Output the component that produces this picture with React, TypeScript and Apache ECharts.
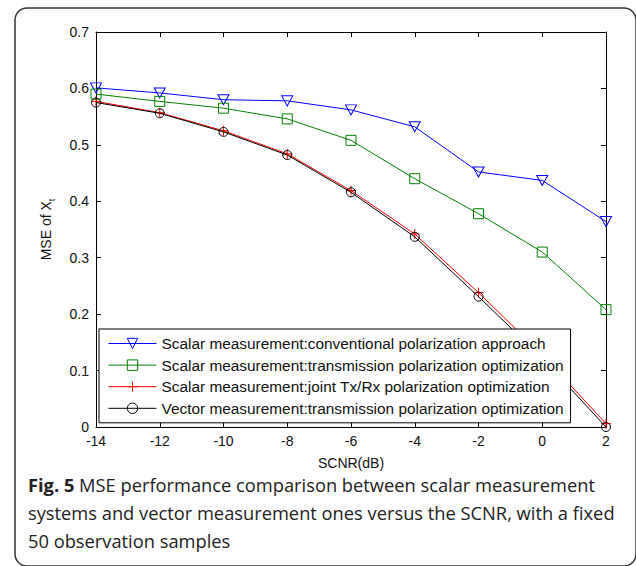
import React, { useEffect, useRef } from "react";
import * as echarts from "echarts";

const snr = [-14, -12, -10, -8, -6, -4, -2, 0, 2];
const conventional = [0.601, 0.592, 0.58, 0.578, 0.562, 0.532, 0.452, 0.437, 0.364];
const transmission = [0.59, 0.577, 0.565, 0.546, 0.508, 0.44, 0.378, 0.31, 0.208];
const jointTxRx = [0.577, 0.557, 0.525, 0.484, 0.419, 0.342, 0.238, 0.128, 0.006];
const vectorMeas = [0.575, 0.556, 0.523, 0.482, 0.416, 0.337, 0.231, 0.122, 0.0];

const seriesNames = [
  "Scalar measurement:conventional polarization approach",
  "Scalar measurement:transmission polarization optimization",
  "Scalar measurement:joint Tx/Rx polarization optimization",
  "Vector measurement:transmission polarization optimization",
];

const captionBold = "Fig. 5";
const captionLines = [
  " MSE performance comparison between scalar measurement",
  "systems and vector measurement ones versus the SCNR, with a fixed",
  "50 observation samples",
];

const pairs = (ys: number[]) => snr.map((x, i) => [x, ys[i]]);

const FONT = "Liberation Sans, Arial, Helvetica, sans-serif";

export default function App() {
  const ref = useRef<HTMLDivElement>(null);
  useEffect(() => {
    document.body.style.margin = "0";
    const chart = echarts.init(ref.current!, null, { renderer: "svg" });
    const axisLine = { show: true, onZero: false, lineStyle: { color: "#000", width: 1 } };
    const tick = { show: true, inside: true, length: 5, lineStyle: { color: "#000", width: 1 } };
    const mk = (
      name: string,
      data: number[],
      color: string,
      symbol: string,
      size: number | number[],
      z: number
    ) => ({
      type: "line",
      name,
      data: pairs(data),
      symbol,
      symbolSize: size,
      showAllSymbol: true,
      z,
      lineStyle: { color, width: 1 },
      itemStyle: { color: "transparent", borderColor: color, borderWidth: 1 },
      emphasis: { disabled: true },
    });
    chart.setOption({
      animation: false,
      backgroundColor: "#fff",
      textStyle: { fontFamily: FONT },
      grid: { left: 96, right: 30, top: 32, bottom: 139, containLabel: false },
      xAxis: [
        {
          type: "value",
          min: -14,
          max: 2,
          interval: 2,
          position: "bottom",
          name: "SCNR(dB)",
          nameLocation: "middle",
          nameGap: 29,
          nameTextStyle: { fontSize: 14, color: "#111", fontFamily: FONT },
          axisLine,
          axisTick: tick,
          axisLabel: { fontSize: 14, color: "#111", margin: 7, fontFamily: FONT },
          splitLine: { show: false },
        },
        {
          type: "value",
          min: -14,
          max: 2,
          interval: 2,
          position: "top",
          axisLine,
          axisTick: tick,
          axisLabel: { show: false },
          splitLine: { show: false },
        },
      ],
      yAxis: [
        {
          type: "value",
          min: 0,
          max: 0.7,
          interval: 0.1,
          position: "left",
          name: "{a|MSE of X}{s|t}",
          nameLocation: "middle",
          nameGap: 40,
          nameTextStyle: {
            fontSize: 14,
            color: "#111",
            fontFamily: FONT,
            rich: {
              a: { fontSize: 14, lineHeight: 20, verticalAlign: "middle", color: "#111", fontFamily: FONT },
              s: { fontSize: 9, lineHeight: 11, verticalAlign: "bottom", color: "#111", fontFamily: FONT },
            },
          },
          axisLine,
          axisTick: tick,
          axisLabel: {
            fontSize: 14,
            color: "#111",
            margin: 7,
            fontFamily: FONT,
            formatter: (v: number) => (v === 0 ? "0" : v.toFixed(1)),
          },
          splitLine: { show: false },
        },
        {
          type: "value",
          min: 0,
          max: 0.7,
          interval: 0.1,
          position: "right",
          axisLine,
          axisTick: tick,
          axisLabel: { show: false },
          splitLine: { show: false },
        },
      ],
      legend: {
        orient: "vertical",
        left: 99,
        top: 329,
        padding: [7, 7, 7, 9],
        itemWidth: 48,
        itemHeight: 13,
        itemGap: 6.6,
        backgroundColor: "#fff",
        borderColor: "#000",
        borderWidth: 1,
        borderRadius: 0,
        selectedMode: false,
        lineStyle: { width: 1 },
        itemStyle: { borderWidth: 1 },
        textStyle: { fontSize: 15.4, color: "#111", fontFamily: FONT },
        data: seriesNames,
      },
      series: [
        mk(seriesNames[0], conventional, "#0000ff", "path://M0,0L12,0L6,10Z", [11, 10], 2),
        mk(seriesNames[1], transmission, "#008000", "rect", 10, 2),
        mk(seriesNames[2], jointTxRx, "#ff0000", "path://M5,0L5,10M0,5L10,5", 10, 2),
        mk(seriesNames[3], vectorMeas, "#000000", "circle", 9, 3),
      ],
      graphic: [
        {
          type: "rect",
          z: -10,
          silent: true,
          shape: { x: 15, y: 8, width: 621, height: 558, r: 12 },
          style: { fill: "none", stroke: "#333", lineWidth: 1.5 },
        },
        {
          type: "text",
          x: 28,
          y: 470,
          silent: true,
          style: {
            text: "{b|" + captionBold + "}" + captionLines[0] + "\n" + captionLines[1] + "\n" + captionLines[2],
            fontSize: 18.3,
            fontFamily: "Open Sans",
            lineHeight: 28,
            fill: "#222",
            rich: {
              b: { fontSize: 18.3, fontWeight: "bold", fontFamily: "Open Sans", lineHeight: 28, fill: "#222" },
            },
          },
        },
      ],
    });
    return () => chart.dispose();
  }, []);
  return <div ref={ref} style={{ width: 636, height: 566, position: "absolute", left: 0, top: 0 }} />;
}
